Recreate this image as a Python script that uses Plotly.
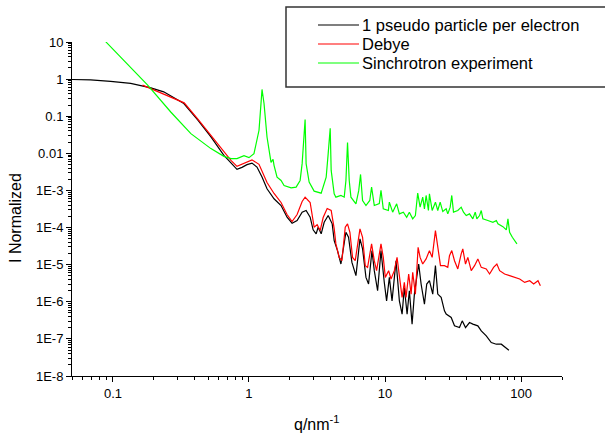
import plotly.graph_objects as go

# ---- data ----
q_black = [0.0488, 0.0685, 0.0962, 0.135, 0.190, 0.236, 0.332, 0.421, 0.525, 0.654, 0.737, 0.816, 0.888, 0.967,
           1.052, 1.145, 1.247, 1.357, 1.528, 1.721, 1.905, 2.074, 2.258, 2.459, 2.63, 2.816, 2.962, 3.117, 3.225,
           3.394, 3.571, 3.821, 4.09, 4.23, 4.474, 4.741, 5.16, 5.393, 5.712, 6.113, 6.545, 6.839, 7.244, 7.569,
           8.02, 8.34, 8.82, 9.34, 9.88, 10.27, 10.76, 11.26, 12.05, 12.75, 13.35, 13.87, 14.53, 15.1, 15.81, 16.44,
           17.1, 17.68, 18.42, 19.49, 20.26, 21.21, 22.43, 23.48, 24.42, 25.86, 27.35, 28.16, 30.65, 32.42, 35.28,
           36.94, 39.06, 41.81, 44.22, 48.13, 51.0, 55.5, 60.4, 65.8, 71.6, 77.9, 81.4]
I_black = [0.98, 0.95, 0.867, 0.765, 0.582, 0.454, 0.220, 0.078, 0.0276, 0.00883, 0.00554, 0.0037, 0.00419,
           0.00495, 0.00547, 0.00426, 0.00229, 0.00111, 5.97e-4, 3.93e-4, 1.9e-4, 1.31e-4, 1.55e-4, 2.6e-4, 2.88e-4,
           1.9e-4, 8.67e-5, 6.76e-5, 1.02e-4, 6.76e-5, 1.39e-4, 2.11e-4, 1.26e-4, 4.45e-5, 2.39e-5, 1.04e-5,
           7.46e-5, 5.47e-5, 1.15e-5, 5.05e-6, 4.95e-5, 2.66e-5, 4.54e-6, 3.01e-6, 2.39e-5, 6.89e-6, 1.98e-6,
           2.39e-5, 3.32e-6, 1.06e-6, 4.54e-6, 1.06e-6, 1.28e-5, 1.06e-6, 4.65e-7, 2.43e-6, 4.65e-7, 1.98e-6,
           2.5e-7, 1.61e-6, 4.54e-6, 1.04e-5, 3.01e-6, 8.67e-7, 3.01e-6, 3.7e-6, 1.61e-6, 9.4e-6, 1.61e-6,
           1.31e-6, 5.71e-7, 4.65e-7, 3.77e-7, 2.25e-7, 2.02e-7, 3.06e-7, 2.02e-7, 2.76e-7, 2.5e-7, 2.25e-7,
           1.64e-7, 1.2e-7, 7.94e-8, 7.19e-8, 7.19e-8, 5.82e-8, 4.95e-8]

q_red = [0.165, 0.334, 0.421, 0.525, 0.654, 0.737, 0.816, 0.919, 1.052, 1.185, 1.357, 1.528, 1.721, 1.905,
         2.074, 2.258, 2.459, 2.586, 2.816, 3.013, 3.171, 3.336, 3.51, 3.757, 4.02, 4.23, 4.354, 4.605, 4.822,
         5.1, 5.302, 5.52, 5.77, 6.04, 6.545, 6.839, 7.157, 7.444, 7.967, 8.34, 8.67, 9.34, 9.71, 10.05, 10.63,
         11.07, 11.71, 12.26, 12.75, 13.35, 13.87, 14.28, 14.93, 15.55, 15.98, 16.72, 17.51, 18.11, 18.93, 20.05,
         21.21, 22.21, 23.48, 24.42, 25.57, 27.35, 28.93, 29.78, 30.96, 32.42, 34.28, 36.31, 37.31, 39.06, 40.62,
         43.03, 45.51, 48.13, 51.0, 55.5, 58.7, 62.8, 66.4, 69.6, 75.7, 82.4, 89.7, 97.7, 106.3, 115.7, 123.8,
         133.2, 138.7]
I_red = [0.689, 0.229, 0.083, 0.0306, 0.01065, 0.00647, 0.00445, 0.00537, 0.00667, 0.00505, 0.00164, 8.3e-4,
         4.74e-4, 2.25e-4, 1.45e-4, 2.25e-4, 5.05e-4, 6.59e-4, 4.74e-4, 1.02e-4, 1.2e-4, 8.3e-5, 1.86e-4, 3.26e-4,
         2.88e-4, 9.4e-5, 3.62e-5, 1.57e-5, 1.28e-5, 1.02e-4, 1.26e-4, 7.46e-5, 1.57e-5, 1.28e-5, 9.22e-5,
         5.47e-5, 9.4e-6, 8.45e-6, 3.62e-5, 1.28e-5, 6.89e-6, 3.62e-5, 1.57e-5, 4.54e-6, 6.89e-6, 4.11e-6,
         6.89e-6, 1.57e-5, 4.54e-6, 1.31e-6, 3.32e-6, 1.31e-6, 5.61e-6, 1.61e-6, 6.19e-6, 1.61e-6, 2.94e-5,
         1.57e-5, 1.04e-5, 1.43e-5, 2.39e-5, 1.57e-5, 8.3e-5, 2.66e-5, 9.4e-6, 9.4e-6, 8.45e-6, 1.75e-5, 2.39e-5,
         1.28e-5, 7.66e-6, 1.95e-5, 2.66e-5, 1.04e-5, 1.57e-5, 6.89e-6, 9.4e-6, 1.43e-5, 8.45e-6, 7.66e-6,
         5.61e-6, 8.45e-6, 1.04e-5, 6.89e-6, 5.61e-6, 5.05e-6, 4.54e-6, 4.11e-6, 3.32e-6, 3.7e-6, 3.01e-6,
         3.7e-6, 2.7e-6]

q_green = [0.0884, 0.18, 0.266, 0.374, 0.525, 0.654, 0.737, 0.816, 0.919, 1.0, 1.088, 1.185, 1.226, 1.247, 1.29,
           1.357, 1.452, 1.503, 1.528, 1.608, 1.721, 1.811, 2.04, 2.221, 2.376, 2.459, 2.586, 2.63, 2.768, 3.013,
           3.394, 3.694, 3.821, 3.954, 4.02, 4.23, 4.354, 4.741, 5.013, 5.16, 5.302, 5.457, 5.616, 6.113, 6.412,
           6.61, 6.839, 7.244, 7.727, 7.967, 8.34, 9.08, 9.34, 9.71, 10.58, 10.76, 11.38, 12.18, 12.75, 13.64,
           14.43, 15.1, 15.98, 16.72, 17.39, 18.11, 18.93, 19.49, 20.05, 20.85, 21.21, 22.21, 23.48, 24.42, 25.43,
           26.58, 28.16, 28.93, 30.13, 30.96, 31.87, 34.28, 36.31, 37.76, 39.53, 41.81, 44.22, 46.04, 47.32, 49.54,
           51.0, 52.4, 57.0, 62.1, 65.8, 67.6, 73.6, 77.9, 80.1, 82.4, 86.3, 89.7, 93.3]
I_green = [10.2, 0.689, 0.13, 0.034, 0.0134, 0.0083, 0.0072, 0.0072, 0.00867, 0.00765, 0.0098, 0.0418, 0.225,
           0.527, 0.22, 0.0276, 0.00571, 0.00689, 0.00474, 0.00229, 0.00186, 0.00136, 0.00118, 0.00123, 0.00186,
           0.00527, 0.0814, 0.00527, 0.00168, 9.57e-4, 8.45e-4, 0.00229, 0.0098, 0.0474, 0.00347, 8.14e-4, 6.59e-4,
           7.33e-4, 6.59e-4, 0.00186, 0.0195, 0.00186, 6.59e-4, 4.37e-4, 0.001, 0.0027, 5.37e-4, 3.93e-4, 5.37e-4,
           0.00123, 3.93e-4, 4.45e-4, 0.001, 3.2e-4, 2.88e-4, 4.83e-4, 2.6e-4, 4.37e-4, 2.34e-4, 2.6e-4, 1.9e-4,
           2.6e-4, 1.72e-4, 2.11e-4, 8.45e-4, 3.54e-4, 6.59e-4, 3.2e-4, 7.33e-4, 2.88e-4, 8.14e-4, 2.88e-4,
           4.83e-4, 2.88e-4, 4.83e-4, 2.7e-4, 3.2e-4, 2.34e-4, 3.54e-4, 7.33e-4, 2.6e-4, 2.88e-4, 3.54e-4, 2.6e-4,
           2.11e-4, 2.34e-4, 1.72e-4, 2.6e-4, 1.72e-4, 2.11e-4, 2.88e-4, 1.72e-4, 1.55e-4, 1.39e-4, 1.55e-4,
           1.26e-4, 1.06e-4, 8.67e-5, 1.72e-4, 7.46e-5, 5.47e-5, 4.45e-5, 3.62e-5]

series_names = ["1 pseudo particle per electron", "Debye", "Sinchrotron experiment"]
series_colors = ["#000000", "#ff0000", "#00ff00"]

x_tick_vals = [0.1, 1, 10, 100]
x_tick_text = ["0.1", "1", "10", "100"]
y_tick_vals = [1e-8, 1e-7, 1e-6, 1e-5, 1e-4, 1e-3, 1e-2, 1e-1, 1, 10]
y_tick_text = ["1E-8", "1E-7", "1E-6", "1E-5", "1E-4", "1E-3", "0.01", "0.1", "1", "10"]

FONT = "Liberation Sans, Arial, sans-serif"

# plot area geometry (pixels)
W, H = 605, 434
ML, MR, MT, MB = 72, 43, 42, 58
PW, PH = W - ML - MR, H - MT - MB


def px_x(px):
    return (px - ML) / PW


def px_y(py):
    return 1 + (MT - py) / PH


fig = go.Figure()
for q, I, name, col in [(q_black, I_black, series_names[0], series_colors[0]),
                        (q_red, I_red, series_names[1], series_colors[1]),
                        (q_green, I_green, series_names[2], series_colors[2])]:
    fig.add_trace(go.Scatter(x=q, y=I, mode="lines", name=name, showlegend=False,
                             line=dict(color=col, width=1.2)))

x_minor = [m * 10 ** e for e in range(-2, 3) for m in range(2, 10) if 0.05 <= m * 10 ** e <= 200]
y_minor = [m * 10 ** e for e in range(-8, 1) for m in range(2, 10)]

axis_common = dict(showgrid=False, zeroline=False, showline=True, linecolor="#000000", linewidth=1,
                   ticks="outside", tickcolor="#000000", tickwidth=1, ticklen=5, automargin=False,
                   tickfont=dict(family=FONT, size=13, color="#000000"))

fig.update_xaxes(type="log", range=[-1.30103, 2.30103], tickmode="array", tickvals=x_tick_vals,
                 ticktext=x_tick_text,
                 minor=dict(tickmode="array", tickvals=x_minor, ticks="outside", ticklen=3,
                            tickcolor="#000000", showgrid=False),
                 **axis_common)
fig.update_yaxes(type="log", range=[-8, 1], tickmode="array", tickvals=y_tick_vals, ticktext=y_tick_text,
                 minor=dict(tickmode="array", tickvals=y_minor, ticks="outside", ticklen=3,
                            tickcolor="#000000", showgrid=False),
                 **axis_common)

annotations = [
    dict(text="q/nm<sup>-1</sup>", x=px_x(317), y=px_y(423), xref="paper", yref="paper",
         xanchor="center", yanchor="middle", showarrow=False,
         font=dict(family=FONT, size=16, color="#000000")),
    dict(text="I Normalized", x=px_x(15), y=px_y(218), xref="paper", yref="paper", textangle=-90,
         xanchor="center", yanchor="middle", showarrow=False,
         font=dict(family=FONT, size=16, color="#000000")),
]

# legend frame
shapes = [dict(type="rect", xref="paper", yref="paper",
               x0=px_x(286), x1=px_x(608), y0=px_y(87), y1=px_y(7),
               line=dict(color="#333333", width=1.5), fillcolor="rgba(0,0,0,0)")]

legend_rows = [25, 44, 63]
for name, col, row in zip(series_names, series_colors, legend_rows):
    shapes.append(dict(type="line", xref="paper", yref="paper",
                       x0=px_x(318), x1=px_x(359), y0=px_y(row), y1=px_y(row),
                       line=dict(color=col, width=1.2)))
    annotations.append(dict(text=name, x=px_x(360), y=px_y(row), xref="paper", yref="paper",
                            xanchor="left", yanchor="middle", showarrow=False,
                            font=dict(family=FONT, size=16.5, color="#000000")))

fig.update_layout(
    width=W, height=H,
    margin=dict(l=ML, r=MR, t=MT, b=MB),
    paper_bgcolor="white", plot_bgcolor="white",
    font=dict(family=FONT, color="#000000"),
    showlegend=False,
    shapes=shapes,
    annotations=annotations,
)

fig.write_html("out.html",
               config={"displayModeBar": False},
               post_script="document.body.style.margin='0';document.body.style.padding='0';"
                           "document.documentElement.style.overflow='hidden';")
